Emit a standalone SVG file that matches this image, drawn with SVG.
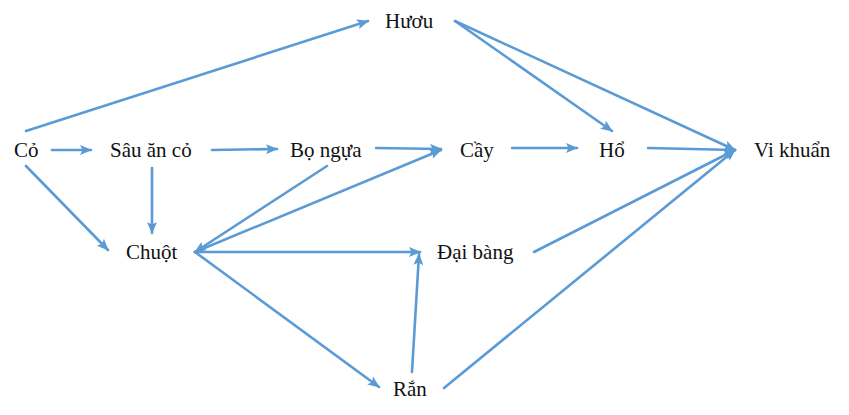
<svg xmlns="http://www.w3.org/2000/svg" width="849" height="415" viewBox="0 0 849 415">
<style>
text{font-family:"Liberation Serif","Times New Roman",serif;font-size:21px;fill:#111}
.c line{stroke:#5B9BD5;stroke-width:2.6;fill:none;stroke-linecap:round}
.a{marker-end:url(#ah)}
</style>
<defs>
<marker id="ah" viewBox="0 0 12 10" refX="11" refY="5" markerWidth="12" markerHeight="10" markerUnits="userSpaceOnUse" orient="auto">
<path d="M0,0 L12,5 L0,10 L2.5,5 Z" fill="#5B9BD5"/>
</marker>
</defs>
<rect width="849" height="415" fill="#fff"/>
<g class="c" id="connectors">
<line class="a" x1="26" y1="131" x2="368" y2="21"/>
<line class="a" x1="455" y1="21" x2="612" y2="131"/>
<line class="a" x1="455" y1="21" x2="735" y2="150"/>
<line class="a" x1="52" y1="150" x2="91" y2="150"/>
<line class="a" x1="212" y1="150" x2="277" y2="149"/>
<line class="a" x1="376" y1="148" x2="441" y2="149"/>
<line class="a" x1="512" y1="148" x2="577" y2="148"/>
<line class="a" x1="648" y1="148" x2="735" y2="150"/>
<line class="a" x1="152" y1="168" x2="152" y2="233"/>
<line class="a" x1="26" y1="166" x2="108" y2="250"/>
<line class="a" x1="327" y1="166" x2="195" y2="252"/>
<line class="a" x1="195" y1="252" x2="441" y2="150"/>
<line class="a" x1="195" y1="252" x2="420" y2="252"/>
<line class="a" x1="195" y1="252" x2="379" y2="387"/>
<line class="a" x1="412" y1="372" x2="419" y2="254"/>
<line class="a" x1="534" y1="252" x2="735" y2="150"/>
<line class="a" x1="444" y1="388" x2="735" y2="150"/>
</g>
<g id="huou"><text x="385" y="28">Hươu</text></g>
<g id="co"><text x="14" y="157">Cỏ</text></g>
<g id="sau"><text x="110" y="157">Sâu ăn cỏ</text></g>
<g id="bongua"><text x="290" y="157">Bọ ngựa</text></g>
<g id="cay"><text x="460" y="157">Cầy</text></g>
<g id="ho"><text x="599" y="157">Hổ</text></g>
<g id="vikhuan"><text x="754" y="157">Vi khuẩn</text></g>
<g id="chuot"><text x="126" y="259">Chuột</text></g>
<g id="daibang"><text x="437" y="259">Đại bàng</text></g>
<g id="ran"><text x="393" y="396">Rắn</text></g>
</svg>
